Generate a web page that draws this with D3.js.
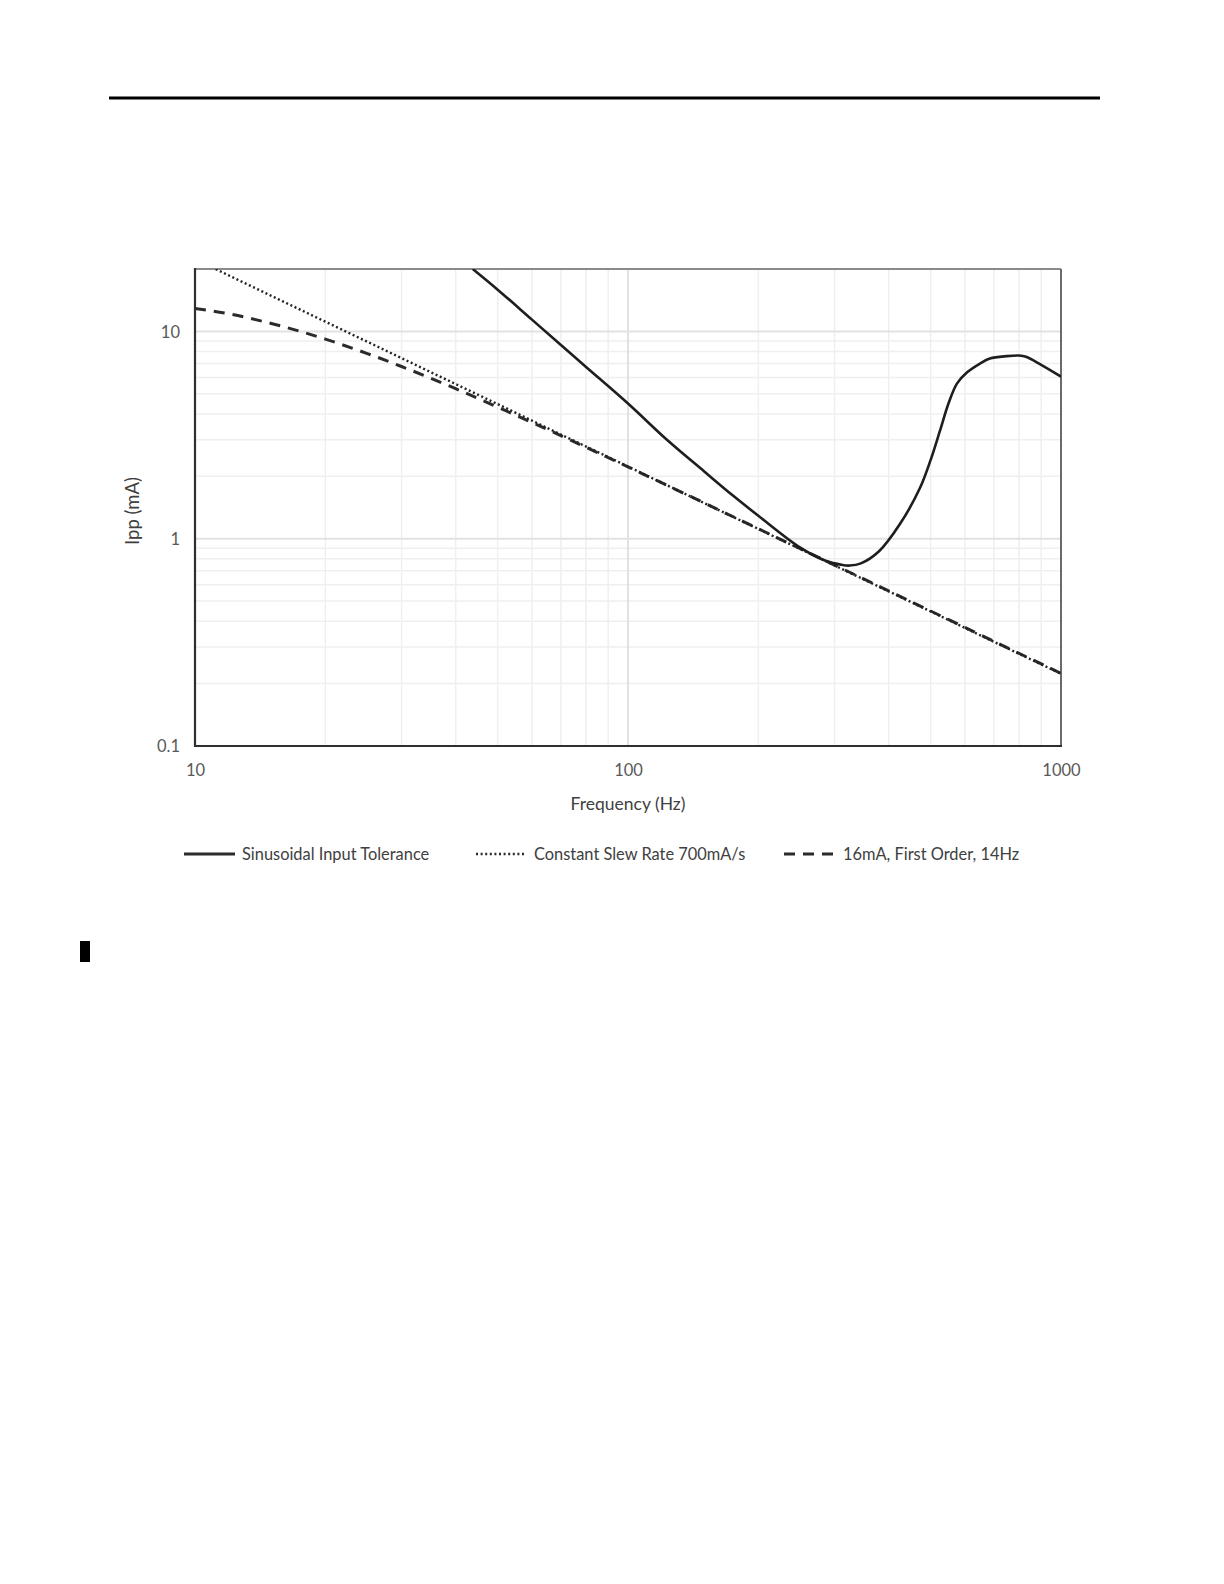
<!DOCTYPE html>
<html>
<head>
<meta charset="utf-8">
<script src="https://cdn.jsdelivr.net/npm/d3@7"></script>
<style>
  html, body { margin: 0; padding: 0; background: #fff; }
  svg { display: block; }
  text { font-family: Lato, "Open Sans", sans-serif; }
</style>
</head>
<body>
<svg id="chart" width="1224" height="1584"></svg>
<script>
// ---- data ----
const xTickValues = [10, 100, 1000];
const xTickLabels = ["10", "100", "1000"];
const yTickValues = [0.1, 1, 10];
const yTickLabels = ["0.1", "1", "10"];

const seriesNames = ["Sinusoidal Input Tolerance", "Constant Slew Rate 700mA/s", "16mA, First Order, 14Hz"];

// Sinusoidal Input Tolerance
const tolFreq = [43.8, 50, 60, 70, 80, 100, 123, 150, 175, 200, 250, 285, 310, 325, 345, 380, 425, 472, 500, 525, 550, 575, 607, 650, 685, 750, 800, 830, 900, 1000];
const tolIpp  = [20, 15.9, 11.4, 8.6, 6.74, 4.49, 3.0, 2.11, 1.61, 1.29, 0.905, 0.785, 0.75, 0.742, 0.76, 0.87, 1.18, 1.75, 2.4, 3.3, 4.5, 5.6, 6.35, 7.0, 7.4, 7.6, 7.65, 7.55, 6.9, 6.05];

// Constant Slew Rate 700mA/s
const slewFreq = [10, 15, 20, 30, 40, 50, 70, 100, 150, 200, 300, 500, 700, 1000];
const slewIpp  = [22.3, 14.85, 11.14, 7.43, 5.57, 4.46, 3.18, 2.23, 1.485, 1.114, 0.743, 0.446, 0.318, 0.223];

// 16mA, First Order, 14Hz
const foFreq = [10, 12, 15, 20, 25, 30, 40, 50, 60, 80, 100, 150, 200, 300, 500, 700, 1000];
const foIpp  = [12.9, 12.15, 10.92, 9.18, 7.82, 6.77, 5.29, 4.31, 3.64, 2.76, 2.22, 1.487, 1.117, 0.746, 0.448, 0.320, 0.224];

// ---- layout ----
const plot = { left: 195, right: 1061, top: 269, bottom: 746 };
const svg = d3.select("#chart");

// page decorations
svg.append("rect").attr("x", 109).attr("y", 96.5).attr("width", 991).attr("height", 3).attr("fill", "#000");
svg.append("rect").attr("x", 80).attr("y", 941).attr("width", 10).attr("height", 21).attr("fill", "#000");

const x = d3.scaleLog().domain([10, 1000]).range([plot.left, plot.right]);
const y = d3.scaleLog().domain([0.1, 20]).range([plot.bottom, plot.top]);

// gridlines
const g = svg.append("g");
const xMinor = [];
const yMinor = [];
[10, 100].forEach(d => { for (let k = 2; k <= 9; k++) xMinor.push(d * k); });
[0.1, 1, 10].forEach(d => { for (let k = 2; k <= 9; k++) { if (d * k <= 20) yMinor.push(d * k); } });

g.selectAll(".xminor").data(xMinor).enter().append("line")
  .attr("x1", d => x(d)).attr("x2", d => x(d)).attr("y1", plot.top).attr("y2", plot.bottom)
  .attr("stroke", "#efefef").attr("stroke-width", 1.5);
g.selectAll(".yminor").data(yMinor).enter().append("line")
  .attr("x1", plot.left).attr("x2", plot.right).attr("y1", d => y(d)).attr("y2", d => y(d))
  .attr("stroke", "#efefef").attr("stroke-width", 1.5);
g.selectAll(".xmajor").data(xTickValues.slice(1, -1)).enter().append("line")
  .attr("x1", d => x(d)).attr("x2", d => x(d)).attr("y1", plot.top).attr("y2", plot.bottom)
  .attr("stroke", "#d9d9d9").attr("stroke-width", 1.5);
g.selectAll(".ymajor").data(yTickValues.slice(1)).enter().append("line")
  .attr("x1", plot.left).attr("x2", plot.right).attr("y1", d => y(d)).attr("y2", d => y(d))
  .attr("stroke", "#e2e2e2").attr("stroke-width", 2);

// plot border
svg.append("line").attr("x1", plot.left).attr("x2", plot.right).attr("y1", plot.top).attr("y2", plot.top)
  .attr("stroke", "#8a8a8a").attr("stroke-width", 2);
svg.append("line").attr("x1", plot.right).attr("x2", plot.right).attr("y1", plot.top).attr("y2", plot.bottom)
  .attr("stroke", "#6a6a6a").attr("stroke-width", 2);

// clip
svg.append("clipPath").attr("id", "clip").append("rect")
  .attr("x", plot.left).attr("y", plot.top).attr("width", plot.right - plot.left).attr("height", plot.bottom - plot.top);

const lineGen = d3.line().x(d => x(d[0])).y(d => y(d[1]));
const lines = svg.append("g").attr("clip-path", "url(#clip)");

lines.append("path").datum(d3.zip(foFreq, foIpp))
  .attr("d", lineGen.curve(d3.curveMonotoneX))
  .attr("fill", "none").attr("stroke", "#2b2b2b").attr("stroke-width", 3)
  .attr("stroke-dasharray", "11,8");

lines.append("path").datum(d3.zip(slewFreq, slewIpp))
  .attr("d", lineGen.curve(d3.curveLinear))
  .attr("fill", "none").attr("stroke", "#222").attr("stroke-width", 2.4)
  .attr("stroke-dasharray", "2,2.6");

lines.append("path").datum(d3.zip(tolFreq, tolIpp))
  .attr("d", lineGen.curve(d3.curveCatmullRom.alpha(0.5)))
  .attr("fill", "none").attr("stroke", "#1e1e1e").attr("stroke-width", 2.6);

// left & bottom axis lines
svg.append("line").attr("x1", plot.left).attr("x2", plot.left).attr("y1", plot.top - 1).attr("y2", plot.bottom + 1)
  .attr("stroke", "#2f2f2f").attr("stroke-width", 2.2);
svg.append("line").attr("x1", plot.left - 1).attr("x2", plot.right + 1).attr("y1", plot.bottom).attr("y2", plot.bottom)
  .attr("stroke", "#2f2f2f").attr("stroke-width", 2.2);

// axes via d3 axis (labels only)
const xAxis = d3.axisBottom(x).tickValues(xTickValues).tickFormat((d, i) => xTickLabels[i]).tickSize(0).tickPadding(18);
const yAxis = d3.axisLeft(y).tickValues(yTickValues).tickFormat((d, i) => yTickLabels[i]).tickSize(0).tickPadding(15);

const gx = svg.append("g").attr("transform", `translate(0,${plot.bottom})`).call(xAxis);
const gy = svg.append("g").attr("transform", `translate(${plot.left},0)`).call(yAxis);
[gx, gy].forEach(a => {
  a.select(".domain").remove();
  a.selectAll("text").attr("font-size", 16.5).attr("fill", "#595959").attr("font-family", "Lato, sans-serif");
});
gy.selectAll("text").attr("dy", "0.35em");

// axis titles
svg.append("text").attr("x", (plot.left + plot.right) / 2).attr("y", 810)
  .attr("text-anchor", "middle").attr("font-size", 17.5).attr("fill", "#404040").text("Frequency (Hz)");
svg.append("text").attr("transform", `translate(139,511) rotate(-90)`)
  .attr("text-anchor", "middle").attr("font-size", 18.5).attr("fill", "#404040").text("Ipp (mA)");

// legend
const legend = svg.append("g");
const legendItems = [
  { name: seriesNames[0], x0: 184, x1: 235, tx: 242, dash: null, w: 3 },
  { name: seriesNames[1], x0: 476, x1: 526, tx: 534, dash: "2,2.6", w: 2.4 },
  { name: seriesNames[2], x0: 784, x1: 835, tx: 843, dash: "11,8", w: 3.2 }
];
const ly = 854;
legendItems.forEach(it => {
  const l = legend.append("line").attr("x1", it.x0).attr("x2", it.x1).attr("y1", ly).attr("y2", ly)
    .attr("stroke", "#2b2b2b").attr("stroke-width", it.w);
  if (it.dash) l.attr("stroke-dasharray", it.dash);
  legend.append("text").attr("x", it.tx).attr("y", ly + 5.5).attr("font-size", 16.4).attr("fill", "#404040").text(it.name);
});
</script>
</body>
</html>
